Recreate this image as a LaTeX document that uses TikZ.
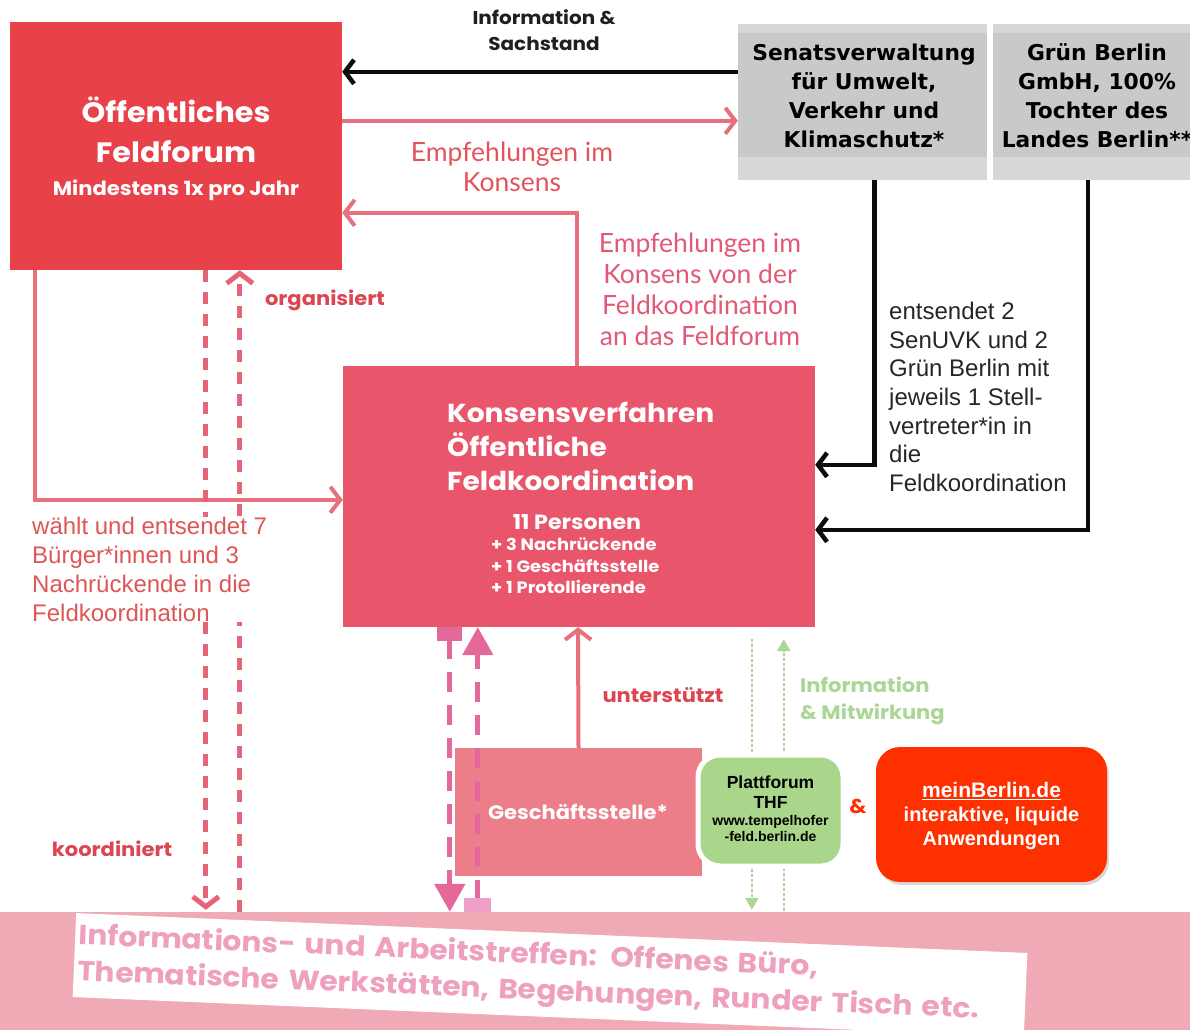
\documentclass[tikz,border=0pt]{standalone}
\usepackage{fontspec}
\setmainfont{Liberation Sans}
\newfontfamily\popfont[FakeStretch=1.08]{Poppins}
\newfontfamily\latofont{Lato}
\newfontfamily\dejafont{DejaVu Sans}
\usetikzlibrary{arrows.meta}
\usetikzlibrary{calc}
\usetikzlibrary{shadows}

\definecolor{forumred}{RGB}{232,65,74}
\definecolor{konsred}{RGB}{233,86,107}
\definecolor{linepink}{RGB}{232,112,126}
\definecolor{dashpink}{RGB}{230,100,120}
\definecolor{magpink}{RGB}{228,104,154}
\definecolor{magpale}{RGB}{240,160,200}
\definecolor{gstpink}{RGB}{236,126,138}
\definecolor{bannerpink}{RGB}{240,170,182}
\definecolor{bannertext}{RGB}{238,160,190}
\definecolor{greylight}{RGB}{215,215,215}
\definecolor{greydark}{RGB}{201,201,201}
\definecolor{lineblack}{RGB}{12,12,12}
\definecolor{boxgreen}{RGB}{170,214,140}
\definecolor{greenline}{RGB}{170,214,150}
\definecolor{meinred}{RGB}{255,48,0}
\definecolor{empfred}{RGB}{228,82,92}
\definecolor{empfpink}{RGB}{226,88,118}
\definecolor{waehltred}{RGB}{222,86,86}
\definecolor{labelred}{RGB}{220,70,82}

\tikzset{
  box/.style={rectangle, inner sep=0pt, text=white},
  greybox/.style={rectangle, fill=greylight, inner sep=0pt,
    path picture={\fill[greydark] ([yshift=-9pt]path picture bounding box.north west)
      rectangle ([yshift=23pt]path picture bounding box.south east);}},
  blackline/.style={draw=lineblack, line width=4.5pt, -{Straight Barb[length=9pt,width=24pt]}},
  pinkline/.style={draw=linepink, line width=4pt, -{Straight Barb[length=10pt,width=26pt]}},
  dashline/.style={draw=dashpink, line width=5pt, dash pattern=on 12pt off 10pt,
    -{Straight Barb[length=10pt,width=26pt]}},
  magline/.style={draw=magpink, line width=5pt, dash pattern=on 20pt off 13pt},
  greenline/.style={draw=greenline, line width=2.5pt, dash pattern=on 2.5pt off 2.5pt,
    -{Triangle[length=12pt,width=13pt]}},
  headfont/.style={font=\popfont\bfseries\fontsize{#1}{#1}\selectfont},
}

\begin{document}
\begin{tikzpicture}[x=1pt,y=-1pt]
  \useasboundingbox (0,0) rectangle (1190,1030);

  % Banner unten
  \node[rectangle, fill=bannerpink, inner sep=0pt, minimum width=1190pt, minimum height=118pt]
    (banner) at (595,971) {};

  % Kaesten
  \node[box, fill=forumred, minimum width=332pt, minimum height=248pt] (forum) at (176,146) {};
  \node[box, fill=konsred, minimum width=472pt, minimum height=261pt] (konsens) at (579,496.5) {};
  \node[greybox, minimum width=249pt, minimum height=156pt] (senat) at (862.5,102) {};
  \node[greybox, minimum width=207pt, minimum height=156pt] (gruen) at (1096.5,102) {};
  \node[box, fill=gstpink, minimum width=247pt, minimum height=128pt] (gst) at (578.5,812) {};

  % Verbindungen
  \draw[blackline] ([yshift=-48pt]senat.north west) -- ([yshift=-50pt]forum.north east);
  \draw[pinkline] ([yshift=-99pt]forum.north east) -- ([yshift=-97pt]senat.north west);
  \draw[pinkline] ([xshift=-2pt]konsens.north) |- ([yshift=-191pt]forum.north east);
  \draw[blackline] ([xshift=12pt]senat.south) |- ([yshift=-99pt]konsens.north east);
  \draw[blackline] ([xshift=-8.5pt]gruen.south) |- ([yshift=-164pt]konsens.north east);
  \draw[pinkline] ([xshift=25pt]forum.south west) |- ([yshift=-134pt]konsens.north west);
  \draw[dashline] ([xshift=196pt]forum.south west) -- ([xshift=206pt,yshift=2pt]banner.north west);
  \draw[dashline] ([xshift=240pt]banner.north west) -- ([xshift=230pt]forum.south west);
  \draw[pinkline] (gst.north) -- ([xshift=-1pt]konsens.south);
  \draw[magline, {Rectangle[length=14pt,width=25pt]}-{Triangle[length=28pt,width=30pt]}]
    ([xshift=107pt]konsens.south west) -- ([xshift=450pt]banner.north west);
  \draw[magline, {Rectangle[length=14pt,width=27pt,color=magpale]}-{Triangle[length=28pt,width=30pt]}]
    ([xshift=478pt]banner.north west) -- ([xshift=135pt]konsens.south west);
  \draw[greenline, shorten <=12pt, shorten >=2pt]
    ([xshift=409pt]konsens.south west) -- ([xshift=752pt]banner.north west);
  \draw[greenline, shorten <=1pt, shorten >=12pt]
    ([xshift=784pt]banner.north west) -- ([xshift=441pt]konsens.south west);

  % Plattform und meinBerlin
  \node[rectangle, rounded corners=22pt, fill=boxgreen, draw=white, line width=5pt,
    minimum width=145pt, minimum height=111pt] (thf) at (770.5,810.5) {};
  \node[rectangle, rounded corners=24pt, fill=meinred, minimum width=231pt, minimum height=135pt,
    drop shadow={opacity=0.3, shadow xshift=2pt, shadow yshift=-3pt}] (mein) at (991.5,814.5) {};

  % Weisses Band im Banner
  \node[rectangle, fill=white, rotate=-2.4, minimum width=952pt, minimum height=84pt,
    text width=944pt, align=left, inner sep=3pt, text=bannertext,
    font=\popfont\bfseries\fontsize{27.6}{36}\selectfont] (bandtext) at (550,975)
    {Informations- und Arbeitstreffen: Offenes Büro,\\Thematische Werkstätten, Begehungen, Runder Tisch etc.};

  % Texte in den Kaesten
  \node[text=white, align=center, font=\popfont\bfseries\fontsize{28}{40}\selectfont]
    (forumtitle) at (176,130) {Öffentliches\\Feldforum};
  \node[headfont=19.5, text=white] (forumsub) at (176,190) {Mindestens 1x pro Jahr};
  \node[text=black, align=center, font=\dejafont\bfseries\fontsize{21.8}{29}\selectfont]
    (senattext) at (864,96) {Senatsverwaltung\\für Umwelt,\\Verkehr und\\Klimaschutz*};
  \node[text=black, align=center, font=\dejafont\bfseries\fontsize{21.8}{29}\selectfont]
    (gruentext) at (1097,96) {Grün Berlin\\GmbH, 100\%\\Tochter des\\Landes Berlin**};
  \node[text=white, anchor=west, align=left, inner sep=0pt,
    font=\popfont\bfseries\fontsize{26}{34}\selectfont]
    (konstitle) at (447,446) {Konsensverfahren\\Öffentliche\\Feldkoordination};
  \node[headfont=20.5, text=white] (personen) at (577,522) {11 Personen};
  \node[text=white, anchor=west, align=left, inner sep=0pt,
    font=\popfont\bfseries\fontsize{16.5}{21.5}\selectfont]
    (plus) at (491,566) {+ 3 Nachrückende\\+ 1 Geschäftsstelle\\+ 1 Protollierende};
  \node[headfont=19.5, text=white] (gsttext) at (578,812) {Geschäftsstelle*};
  \node[text=black, align=center, font=\bfseries\fontsize{17.5}{20}\selectfont]
    (thftitle) at (770.5,792) {Plattforum\\THF};
  \node[text=black, align=center, font=\bfseries\fontsize{14}{16}\selectfont]
    (thfurl) at (770.5,828) {www.tempelhofer\\-feld.berlin.de};
  \node[text=white, align=center, font=\bfseries\fontsize{20}{24}\selectfont]
    (meintext) at (991.5,816) {{\fontsize{21}{24}\selectfont\underline{meinBerlin.de}}\\interaktive, liquide\\Anwendungen};

  % Beschriftungen
  \node[text=black!88, align=center, font=\popfont\bfseries\fontsize{18.5}{26}\selectfont]
    (infotext) at (544,30) {Information \&\\Sachstand};
  \node[text=empfred, align=center, font=\latofont\fontsize{26.5}{30}\selectfont]
    (empftext) at (512,167) {Empfehlungen im\\Konsens};
  \node[text=empfpink, align=center, font=\latofont\fontsize{26.5}{31}\selectfont]
    (empfkons) at (700,289.5) {Empfehlungen im\\Konsens von der\\Feldkoordination\\an das Feldforum};
  \node[text=black!85, anchor=west, align=left, inner sep=0pt, font=\fontsize{24}{28.7}\selectfont]
    (entsendet) at (889,397) {entsendet 2\\SenUVK und 2\\Grün Berlin mit\\jeweils 1 Stell-\\vertreter*in in\\die\\Feldkoordination};
  \node[text=waehltred, fill=white, anchor=west, align=left, inner sep=0pt, font=\fontsize{24}{29}\selectfont]
    (waehlt) at (32,569.5) {wählt und entsendet 7\\Bürger*innen und 3\\Nachrückende in die\\Feldkoordination};
  \node[headfont=19.5, text=labelred] (organisiert) at (325,300) {organisiert};
  \node[headfont=19.5, text=labelred] (koordiniert) at (112,849) {koordiniert};
  \node[headfont=19.5, text=labelred] (unterstuetzt) at (663,695) {unterstützt};
  \node[text=greenline, anchor=west, align=left, inner sep=0pt,
    font=\popfont\bfseries\fontsize{19.5}{27}\selectfont]
    (mitwirkung) at (800,700.5) {Information\\\& Mitwirkung};
  \node[headfont=20, text=meinred] (und) at (858,806) {\&};
\end{tikzpicture}
\end{document}
